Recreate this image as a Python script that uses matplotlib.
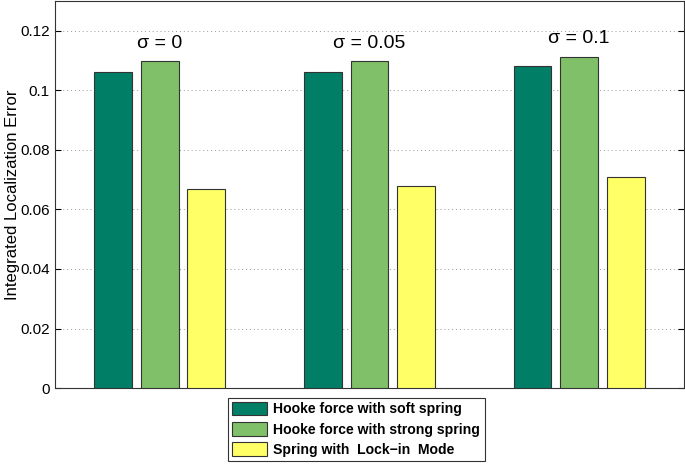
import matplotlib.pyplot as plt
import numpy as np

plt.rcParams['font.family'] = ['Liberation Sans', 'DejaVu Sans']

groups = ['σ = 0', 'σ = 0.05', 'σ = 0.1']
soft = [0.1063, 0.1063, 0.1080]
strong = [0.1097, 0.1097, 0.1113]
lockin = [0.0668, 0.0680, 0.0710]
series_names = ['Hooke force with soft spring', 'Hooke force with strong spring',
                'Spring with  Lock\u2212in  Mode']
colors = ['#007f66', '#80c068', '#ffff66']

fig = plt.figure(figsize=(6.85, 4.67), dpi=100)
ax = fig.add_axes([0.080, 0.169, 0.9185, 0.829])

x = np.arange(1, len(groups) + 1)
w = 0.18
off = 0.222
bars = []
for i, (vals, c) in enumerate(zip([soft, strong, lockin], colors)):
    b = ax.bar(x + (i - 1) * off, vals, width=w, color=c, edgecolor='#333333',
               linewidth=0.8, zorder=3)
    bars.append(b)

for xi, g, s in zip(x, groups, strong):
    ax.text(xi, s + 0.0032, g, ha='center', va='bottom', fontsize=14)

ax.set_xlim(0.5, 3.5)
ax.set_ylim(0, 0.13)
ax.set_yticks([0, 0.02, 0.04, 0.06, 0.08, 0.1, 0.12])
ax.set_yticklabels(['0', '0.02', '0.04', '0.06', '0.08', '0.1', '0.12'])
ax.set_xticks([])
ax.tick_params(axis='y', direction='in', right=True, labelsize=11, length=4)
ax.yaxis.grid(True, linestyle=(0, (1, 3)), color='#999999', linewidth=0.7, zorder=0)
ax.set_ylabel('Integrated Localization Error', fontsize=12, va='center')
ax.yaxis.set_label_coords(-0.067, 0.5)
for sp in ax.spines.values():
    sp.set_color('#333333')
    sp.set_linewidth(0.8)

leg = fig.legend(bars, series_names, loc='lower center', bbox_to_anchor=(0.52, -0.002),
                 prop={'weight': 'bold', 'size': 10.1}, frameon=True, fancybox=False,
                 edgecolor='black', handlelength=2.5, handleheight=1.1,
                 handletextpad=0.45, labelspacing=0.4, borderpad=0.3)
leg.get_frame().set_linewidth(0.8)

fig.savefig('out.png', dpi=100)
